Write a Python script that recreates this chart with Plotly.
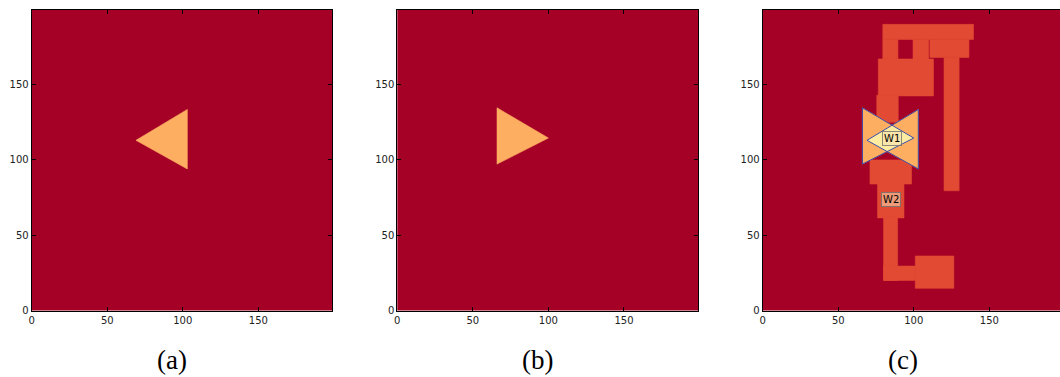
import plotly.graph_objects as go

# ---------------- data ----------------
x_ticks = [0, 50, 100, 150]
y_ticks = [0, 50, 100, 150]
captions = ["(a)", "(b)", "(c)"]

# left-pointing triangle (panel a) and right-pointing triangle (panel b)
tri_a_x = [69, 103, 103]
tri_a_y = [113, 133.5, 94]
tri_b_x = [66, 66, 100]
tri_b_y = [134.6, 97.2, 114.5]

# blocks of panel (c)
rect_x0 = [79.5, 110.6, 120, 79.5, 99.5, 76.5, 75.5, 71, 76, 80, 80, 101]
rect_x1 = [139.5, 136.5, 130, 89.5, 109.8, 113, 89.7, 98.5, 93.5, 89.3, 101, 126.5]
rect_y0 = [180, 168, 79.5, 167, 167, 142.5, 125, 84, 61.5, 20, 20, 14.7]
rect_y1 = [190, 180, 168, 180, 180, 167, 143, 100, 84, 62, 29.5, 36.2]

labels = ["W1", "W2"]
label_x = [85.3, 84.9]
label_y = [113.9, 73.8]

# ---------------- styles ----------------
BG = "#A50026"
ORANGE = "#FDAE61"
RED_ORANGE = "#E24A33"
YELLOW = "#FEEDA0"
BLUE = "#3A48A8"

W, H = 1060, 377
left_px = [31.7, 397.3, 762.7]
right_px = [332.3, 698.3, 1060]
scale = 1.511
top_px, bot_px = 9.5, 310.5


def clip_polygon(subject, clipper):
    area = sum(clipper[i][0] * clipper[(i + 1) % len(clipper)][1]
               - clipper[(i + 1) % len(clipper)][0] * clipper[i][1]
               for i in range(len(clipper)))
    if area < 0:
        clipper = clipper[::-1]

    def inside(p, a, b):
        return (b[0] - a[0]) * (p[1] - a[1]) - (b[1] - a[1]) * (p[0] - a[0]) >= 0

    def inter(p1, p2, a, b):
        x1, y1 = p1; x2, y2 = p2; x3, y3 = a; x4, y4 = b
        d = (x1 - x2) * (y3 - y4) - (y1 - y2) * (x3 - x4)
        t = ((x1 - x3) * (y3 - y4) - (y1 - y3) * (x3 - x4)) / d
        return (x1 + t * (x2 - x1), y1 + t * (y2 - y1))

    out = list(subject)
    for i in range(len(clipper)):
        a, b = clipper[i], clipper[(i + 1) % len(clipper)]
        inp = out
        out = []
        if not inp:
            break
        s = inp[-1]
        for e in inp:
            if inside(e, a, b):
                if not inside(s, a, b):
                    out.append(inter(s, e, a, b))
                out.append(e)
            elif inside(s, a, b):
                out.append(inter(s, e, a, b))
            s = e
    return out


def closed(xs, ys):
    return list(xs) + [xs[0]], list(ys) + [ys[0]]


fig = go.Figure()


def ax(k):
    return ("x" + ("" if k == 1 else str(k)), "y" + ("" if k == 1 else str(k)))


def poly(xs, ys, fill, k, lw=0.6):
    cx, cy = closed(xs, ys)
    xa, ya = ax(k)
    fig.add_trace(go.Scatter(
        x=cx, y=cy, fill="toself", fillcolor=fill, mode="lines",
        line=dict(color=fill, width=lw), xaxis=xa, yaxis=ya,
        hoverinfo="skip", showlegend=False))


def outline(xs, ys, k):
    cx, cy = closed(xs, ys)
    xa, ya = ax(k)
    fig.add_trace(go.Scatter(
        x=cx, y=cy, mode="lines", line=dict(color=BLUE, width=1),
        xaxis=xa, yaxis=ya, hoverinfo="skip", showlegend=False))


poly(tri_a_x, tri_a_y, ORANGE, 1)
poly(tri_b_x, tri_b_y, ORANGE, 2)
for x0, x1, y0, y1 in zip(rect_x0, rect_x1, rect_y0, rect_y1):
    poly([x0, x1, x1, x0], [y0, y0, y1, y1], RED_ORANGE, 3)
poly(tri_a_x, tri_a_y, ORANGE, 3)
poly(tri_b_x, tri_b_y, ORANGE, 3)
inter_pts = clip_polygon(list(zip(tri_a_x, tri_a_y)), list(zip(tri_b_x, tri_b_y)))
poly([p[0] for p in inter_pts], [p[1] for p in inter_pts], YELLOW, 3)
outline(tri_a_x, tri_a_y, 3)
outline(tri_b_x, tri_b_y, 3)

ydom = [(H - bot_px) / H, (H - top_px) / H]
yrange = [0, (bot_px - top_px) / 1.506]

layout = dict(
    width=W, height=H, margin=dict(l=0, r=0, t=0, b=0, autoexpand=False),
    paper_bgcolor="white", plot_bgcolor=BG, showlegend=False,
)
axis_common = dict(showgrid=False, zeroline=False, showline=True, linecolor="black",
                   linewidth=1, ticks="inside", ticklen=4, tickcolor="black",
                   automargin=False,
                   tickfont=dict(family="DejaVu Sans", size=10, color="#222"))
for i in range(3):
    k = "" if i == 0 else str(i + 1)
    xr = (right_px[i] - left_px[i]) / scale
    layout["xaxis" + k] = dict(axis_common, domain=[left_px[i] / W, right_px[i] / W],
                               range=[0, xr], tickvals=x_ticks, mirror="ticks",
                               anchor="y" + k)
    layout["yaxis" + k] = dict(axis_common, domain=ydom, range=yrange, tickvals=y_ticks,
                               mirror=("ticks" if i < 2 else False), anchor="x" + k)

anns = []
for i, cap in enumerate(captions):
    anns.append(dict(text=cap, x=(171.7 + 365.5 * i) / W, y=0,
                     xref="paper", yref="paper", xanchor="center", yanchor="bottom",
                     showarrow=False,
                     font=dict(family="Liberation Serif", size=27, color="black")))
for t, lx, ly in zip(labels, label_x, label_y):
    anns.append(dict(text=t, x=lx, y=ly, xref="x3", yref="y3", showarrow=False,
                     xanchor="center", yanchor="middle",
                     font=dict(family="DejaVu Sans", size=10, color="black"),
                     bgcolor="rgba(245,222,179,0.55)", bordercolor="rgba(110,110,110,0.8)",
                     borderwidth=1, borderpad=1))
layout["annotations"] = anns

fig.update_layout(**layout)
fig.write_html("out.html")
